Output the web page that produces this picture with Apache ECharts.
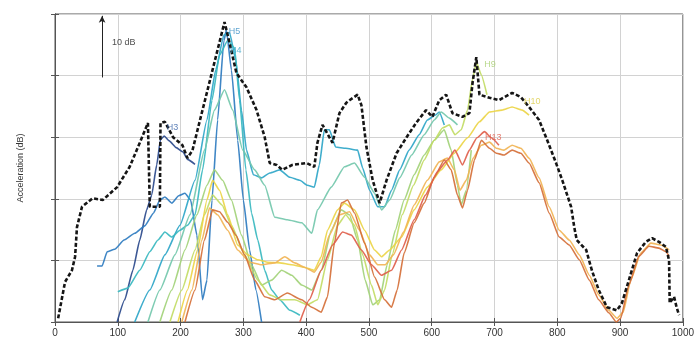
<!DOCTYPE html>
<html>
<head>
<meta charset="utf-8">
<script src="https://cdn.jsdelivr.net/npm/echarts@6/dist/echarts.min.js"></script>
<style>
  html, body { margin: 0; padding: 0; background: #ffffff; }
  #chart { width: 697px; height: 340px; }
</style>
</head>
<body>
<div id="chart"></div>
<script>
// Frequency axis (Hz) and level axis (dB)
const xTickLabels = ['0', '100', '200', '300', '400', '500', '600', '700', '800', '900', '1000'];
const levelRange = [0, 50];

// Overall acceleration level, [frequency, dB]
const overall = [[5,0.6],[16,6.5],[27,8.4],[32,10.6],[35,15.4],[43,18.7],[60,20.1],[76,19.8],[99,21.9],[119,25.2],[135,29.1],[148,32.3],[151,18.7],[167,18.7],[168,32.3],[175,32.5],[188,30],[203,28.7],[211,26.6],[219,27.9],[270,48.7],[278,45.3],[289,40.4],[305,38.1],[321,34.4],[334,30],[342,25.8],[353,25.5],[362,24.7],[378,25.5],[401,25.8],[413,25.2],[418,29.1],[426,32],[442,29.1],[453,33.9],[464,35.6],[469,36],[482,36.9],[488,35.2],[496,28.4],[506,23],[517,19.3],[528,23],[544,27.4],[560,30],[575,32.3],[591,34.4],[601,33.3],[612,36],[623,36.9],[633,33.9],[649,33.3],[660,33.9],[665,38.8],[671,43],[676,36.9],[692,36.4],[707,36],[728,37.2],[742,36.5],[755,34.9],[771,32.8],[784,29.5],[798,25.8],[808,23],[822,18.7],[827,15.4],[831,13.3],[846,11.7],[855,8.4],[866,5.2],[879,2.4],[895,1.9],[903,3.1],[914,6.8],[927,11.2],[941,13],[951,13.6],[962,13],[973,12.2],[978,10],[979,3.1],[986,4.1],[990,2.4],[994,1.1]];

// Harmonic orders, [frequency, dB]
const h3 = [[99,0],[111,3.6],[124,8.4],[135,13.3],[146,18.2],[154,20.6],[162,25.5],[168,29.6],[174,30.2],[182,29.4],[193,28.3],[204,27.6],[211,26.4],[223,25.6]];
const h4 = [[67,9.1],[75,9.1],[83,11.4],[95,11.8],[110,13.3],[127,14.4],[143,15.6],[157,17.7],[167,19.8],[175,20.3],[186,19.3],[197,20.5],[207,20.9],[216,19.8],[226,14.1],[235,3.6],[242,6.8],[250,19.8],[259,32.8],[269,45.7],[273,47.4],[281,40.9],[291,29.5],[300,19.8],[310,11.7],[320,5.2],[329,0]];
const h5 = [[127,0],[151,5.2],[175,10.9],[199,15.7],[223,23],[242,32.8],[256,40.9],[269,46.6],[278,47],[288,42.5],[297,34.4],[305,27.9],[316,23.9],[329,23.4],[342,24.2],[358,24.7],[374,23.5],[390,23],[402,22.2],[413,21.9],[421,25.5],[429,31.2],[437,31.2],[447,28.4],[463,28.2],[482,27.9],[490,25],[501,21.4],[514,18.7],[525,18.7],[536,21.4],[549,24.7],[564,27.9],[580,30.4],[593,32.8],[606,33.6],[612,34.1],[620,32]];
const h6 = [[100,4.9],[116,5.5],[135,8.4],[151,11.4],[164,13.3],[175,14.6],[186,13.8],[199,14.9],[211,15.7],[223,17.4],[235,24.7],[250,36],[262,43.3],[275,45.7],[286,44.5],[294,36],[304,24.7],[313,17.7],[323,13.3],[334,8.4],[345,5.2],[358,3.6],[374,1.9],[390,1.1]];
const h7 = [[148,0],[167,5.2],[191,10.9],[215,17.4],[238,27.9],[254,34.4],[270,37.7],[283,34.4],[299,27.9],[318,24.7],[334,22.2],[350,17],[370,16.6],[393,16.1],[409,14.4],[418,18.2],[440,21.9],[461,25.2],[477,25.8],[493,23.5],[509,20.9],[520,18.2],[533,19.8],[549,23.4],[568,27.1],[588,30.4],[604,32.8],[615,34.1],[628,33.1],[641,32]];
const h8 = [[167,0],[186,5.2],[207,11.7],[226,17.4],[242,22.2],[254,24.7],[267,23],[281,19.8],[297,14.1],[313,9.3],[329,6],[345,6.8],[361,8.4],[377,7.6],[393,6],[409,5.2],[424,8.4],[440,14.9],[456,18.2],[469,17.4],[482,13.3],[494,6.8],[506,2.8],[517,3.6],[529,9.3],[542,14.9],[556,19.8],[572,23.9],[588,27.1],[604,29.5],[620,31.2],[631,27.9],[641,22.2],[647,19],[655,21.4],[663,27.9]];
const h9 = [[183,0],[202,5.2],[223,11.7],[238,17.4],[251,20.6],[266,19],[281,15.7],[302,10.9],[323,6.8],[342,4.4],[361,3.6],[382,3.6],[402,2.8],[418,3.6],[434,10.1],[450,15.7],[463,17.4],[477,15.7],[490,10.9],[504,6],[514,2.8],[525,5.2],[537,10.9],[553,17.4],[571,22.2],[588,26.3],[604,29.5],[617,31.5],[628,32],[637,30.4],[647,31.2],[657,34.4],[665,39.3],[671,42.2],[679,40.1],[688,36.9]];
const h10 = [[196,0],[211,5.2],[227,11.7],[242,19.8],[251,23],[262,21.4],[275,17.4],[291,12.5],[307,10.9],[323,10.1],[339,9.7],[358,9.6],[377,9.3],[397,8.9],[413,8.4],[424,10.6],[434,14.9],[450,18.2],[461,19.3],[477,18.2],[493,14.9],[509,11.7],[520,10.6],[533,11.7],[552,13.8],[572,18.2],[593,21.9],[615,24.7],[636,27.4],[657,29.9],[676,32.5],[692,34.1],[712,34.4],[728,34.9],[744,34.4],[755,33.6]];
const h11 = [[202,0],[218,5.2],[234,13.3],[246,18.5],[259,17.4],[275,14.9],[291,11.7],[310,9.7],[329,9.3],[350,9.6],[366,10.6],[382,9.6],[397,8.9],[413,8.1],[424,9.7],[437,14.1],[453,17.4],[469,17.9],[485,14.9],[501,10.9],[514,9.3],[526,9.3],[539,10.9],[555,14.6],[572,19],[593,23],[612,26],[625,26.6],[636,24.7],[645,21.4],[655,23],[666,26.6],[679,28.7],[692,29.2],[703,28.2],[715,27.9],[728,28.7],[742,28.2],[755,26.6],[771,23.4],[787,18.7],[803,14.9],[819,13.3],[835,10.9],[851,7.6],[866,4.4],[882,1.9],[895,0.6],[905,1.6],[917,6.8],[933,11.2],[949,12.8],[965,12.5],[978,11.7]];
const h12 = [[207,0],[223,5.2],[238,13.3],[251,18.2],[262,17.9],[275,16.2],[288,14.1],[302,10.9],[318,6.8],[334,4.1],[350,3.6],[370,4.7],[393,3.6],[409,2.4],[424,1.6],[434,4.1],[445,12.8],[456,19.3],[466,19.8],[477,17.7],[493,12.8],[509,7.3],[525,3.6],[536,2.4],[545,5.2],[556,11.2],[572,16.1],[588,19.3],[604,23.5],[620,26.3],[631,24.7],[641,20.6],[649,18.5],[657,21.4],[668,26.3],[679,29.5],[692,28.2],[703,27.4],[715,27.1],[728,27.9],[742,27.4],[755,25.8],[771,22.6],[787,17.7],[803,13.8],[819,12.5],[835,10.1],[851,6.8],[866,3.6],[882,1.5],[894,0],[901,0.6],[914,6],[930,10.7],[946,12.3],[962,12],[973,11.4],[978,10.7]];
const h13 = [[390,0],[405,3.6],[424,8.4],[442,12.5],[458,14.6],[472,14.1],[488,11.7],[504,9.3],[520,7.6],[536,8.4],[552,11.7],[572,16.6],[590,20.6],[609,24.4],[625,26.3],[637,27.9],[649,25.5],[660,27.9],[672,29.9],[684,30.9],[695,29.9],[707,28.7]];

// Order names and tag anchors [frequency, dB]
const harmonicNames = ['H3', 'H4', 'H5', 'H6', 'H7', 'H8', 'H9', 'H10', 'H11', 'H12', 'H13'];
const harmonicData = [h3, h4, h5, h6, h7, h8, h9, h10, h11, h12, h13];
const tagNames = ['H3', 'H5', 'H4', 'H9', 'H10', 'H13'];
const tagAnchors = [[177, 31.6], [276, 47.2], [278, 44], [683, 41.8], [746, 35.8], [684, 30]];

// Scale bar: 10 dB
const scaleBarFreq = 75;
const scaleBarLevels = [39.7, 49.7];
const scaleBarText = '10 dB';

// Styling
const lineColors = {
  H3: '#2b4a8c', H4: '#2f7cc0', H5: '#2fa6c8', H6: '#39b8c0', H7: '#74c8ac',
  H8: '#a3d27a', H9: '#c2dc66', H10: '#ecd548', H11: '#f1b455', H12: '#d5703a', H13: '#e0604c'
};
const tagColors = { H3: '#3a64a8', H5: '#3a8fc4', H4: '#36a4c8', H9: '#a9d072', H10: '#dccd4a', H13: '#e06050' };
const fontFamily = 'Liberation Sans, Arial, sans-serif';

const chart = echarts.init(document.getElementById('chart'), null, { renderer: 'canvas' });

const series = harmonicNames.map((name, i) => ({
  name: name,
  type: 'line',
  data: harmonicData[i],
  showSymbol: false,
  symbol: 'none',
  smooth: 0.15,
  smoothMonotone: 'x',
  lineStyle: { color: lineColors[name], width: 1.6, opacity: 0.92 },
  z: 2,
  animation: false
}));

series.push({
  name: 'Overall',
  type: 'line',
  data: overall,
  showSymbol: false,
  symbol: 'none',
  lineStyle: { color: '#151515', width: 2.6, type: [4, 2.2], cap: 'butt' },
  z: 5,
  animation: false
});

// Order tags, drawn above every curve
series.push({
  name: 'tags',
  type: 'scatter',
  symbolSize: 1,
  itemStyle: { color: 'rgba(255,255,255,0)' },
  silent: true,
  z: 10,
  animation: false,
  labelLayout: { hideOverlap: false },
  data: tagNames.map((t, k) => ({
    value: tagAnchors[k],
    label: {
      show: true, position: 'right', distance: 0, formatter: t,
      color: tagColors[t], fontSize: 9, fontFamily: fontFamily
    }
  }))
});

// Scale bar arrow and its caption
series.push({
  name: 'scale',
  type: 'scatter',
  data: [[scaleBarFreq + 15, (scaleBarLevels[0] + scaleBarLevels[1]) / 2 + 0.6]],
  symbolSize: 1,
  itemStyle: { color: 'rgba(255,255,255,0)' },
  label: {
    show: true, position: 'right', distance: 0, formatter: scaleBarText,
    fontSize: 9, color: '#222', fontFamily: fontFamily
  },
  markLine: {
    silent: true,
    symbol: ['none', 'arrow'],
    symbolSize: [5, 7],
    lineStyle: { color: '#222', width: 1, type: 'solid' },
    label: { show: false },
    data: [[{ coord: [scaleBarFreq, scaleBarLevels[0]] }, { coord: [scaleBarFreq, scaleBarLevels[1]] }]],
    animation: false
  },
  z: 6,
  animation: false
});

const axisFont = { fontSize: 10, color: '#333', fontFamily: fontFamily };
const edge = { show: true, lineStyle: { color: '#555' } };
const innerTick = { show: true, inside: true, length: 4, lineStyle: { color: '#555' } };
const grid = { show: true, lineStyle: { color: '#d2d2d2', width: 1 } };

chart.setOption({
  backgroundColor: '#ffffff',
  animation: false,
  grid: { left: 55, right: 13, top: 14, bottom: 18, show: true, borderColor: '#555', borderWidth: 1 },
  xAxis: [{
    type: 'value', min: 0, max: 1000, interval: 100, position: 'bottom',
    axisLine: edge, axisTick: innerTick,
    axisLabel: Object.assign({ margin: 6, formatter: v => xTickLabels[Math.round(v / 100)] }, axisFont),
    splitLine: grid
  }, {
    type: 'value', min: 0, max: 1000, interval: 100, position: 'top',
    axisLine: edge, axisTick: innerTick,
    axisLabel: { show: false }, splitLine: { show: false }
  }],
  yAxis: [{
    type: 'value', min: levelRange[0], max: levelRange[1], interval: 10, position: 'left',
    name: 'Acceleration (dB)', nameLocation: 'middle', nameGap: 30,
    nameTextStyle: { fontSize: 9, color: '#333', fontFamily: fontFamily },
    axisLine: edge, axisTick: innerTick,
    axisLabel: { show: false },
    splitLine: grid
  }, {
    type: 'value', min: levelRange[0], max: levelRange[1], interval: 10, position: 'right',
    axisLine: edge, axisTick: innerTick,
    axisLabel: { show: false }, splitLine: { show: false }
  }],
  series: series
});
</script>
</body>
</html>
